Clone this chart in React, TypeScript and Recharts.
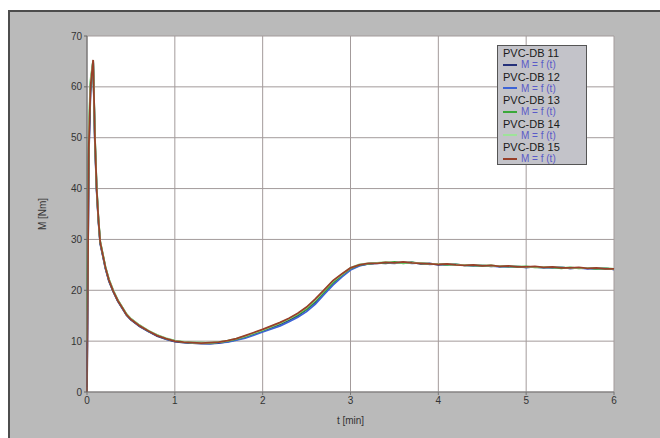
import { CartesianGrid, Legend, Line, LineChart, XAxis, YAxis } from 'recharts'

// time axis [min]
const times = [
  0, 0.02, 0.04, 0.07, 0.09, 0.11, 0.13, 0.15, 0.18, 0.21, 0.25, 0.3, 0.35, 0.4, 0.45, 0.5,
  0.6, 0.7, 0.8, 0.9, 1.0, 1.1, 1.2, 1.3, 1.4, 1.5, 1.6, 1.7, 1.8, 1.9, 2.0,
  2.1, 2.2, 2.3, 2.4, 2.5, 2.6, 2.7, 2.8, 2.9, 3.0, 3.1, 3.2, 3.3, 3.4, 3.5,
  3.6, 3.7, 3.8, 3.9, 4.0, 4.1, 4.2, 4.3, 4.4, 4.5, 4.6, 4.7, 4.8, 4.9, 5.0,
  5.1, 5.2, 5.3, 5.4, 5.5, 5.6, 5.7, 5.8, 5.9, 6.0,
]

// torque M [Nm] per sample
const db11 = [
  4, 46, 59, 64.8, 49, 39.5, 33.6, 29.2, 26.8, 24.3, 21.8, 19.7, 17.9, 16.5, 15.1, 14.2,
  12.9, 11.9, 11.0, 10.4, 9.9, 9.7, 9.6, 9.5, 9.5, 9.6, 9.9, 10.3, 10.8, 11.4, 12.0,
  12.6, 13.3, 14.1, 15.0, 16.2, 17.7, 19.6, 21.4, 22.9, 24.2, 24.9, 25.2, 25.4, 25.3, 25.5,
  25.4, 25.5, 25.2, 25.3, 25.0, 25.1, 25.0, 25.0, 24.8, 24.9, 24.7, 24.8, 24.6, 24.7, 24.5,
  24.6, 24.6, 24.4, 24.5, 24.3, 24.4, 24.4, 24.2, 24.3, 24.1,
]
const db12 = [
  1, 47, 60.5, 65, 49.5, 39.8, 33.8, 29.4, 26.9, 24.4, 21.9, 19.8, 18.0, 16.5, 15.2, 14.3,
  13.0, 11.9, 11.1, 10.4, 10.0, 9.8, 9.6, 9.6, 9.5, 9.7, 9.8, 10.2, 10.6, 11.2, 11.8,
  12.4, 13.0, 13.8, 14.7, 15.8, 17.3, 19.2, 21.0, 22.6, 24.0, 24.8, 25.2, 25.3, 25.4, 25.3,
  25.5, 25.3, 25.4, 25.1, 25.2, 25.0, 25.1, 24.9, 24.9, 24.8, 24.8, 24.6, 24.7, 24.6, 24.5,
  24.6, 24.4, 24.5, 24.5, 24.3, 24.4, 24.2, 24.3, 24.3, 24.1,
]
const db13 = [
  16, 50, 61, 65.1, 50.2, 40.2, 34.1, 29.6, 27.1, 24.6, 22.1, 19.9, 18.1, 16.7, 15.3, 14.4,
  13.1, 12.0, 11.2, 10.5, 10.1, 9.8, 9.7, 9.7, 9.6, 9.8, 10.0, 10.4, 10.9, 11.5, 12.1,
  12.8, 13.5, 14.3, 15.2, 16.3, 17.9, 19.7, 21.5, 23.0, 24.3, 25.0, 25.2, 25.4, 25.4, 25.6,
  25.3, 25.5, 25.3, 25.2, 25.2, 25.0, 25.1, 24.9, 24.9, 24.8, 24.9, 24.7, 24.7, 24.6, 24.7,
  24.5, 24.5, 24.5, 24.3, 24.5, 24.3, 24.4, 24.2, 24.3, 24.2,
]
const db14 = [
  10, 52, 61.5, 65.2, 50.5, 40.4, 34.2, 29.7, 27.2, 24.6, 22.2, 20.0, 18.1, 16.7, 15.3, 14.4,
  13.1, 12.1, 11.2, 10.6, 10.1, 9.9, 9.7, 9.7, 9.7, 9.8, 10.1, 10.5, 11.0, 11.6, 12.2,
  12.9, 13.6, 14.4, 15.4, 16.6, 18.1, 20.0, 21.8, 23.1, 24.4, 25.1, 25.3, 25.4, 25.6, 25.4,
  25.5, 25.4, 25.4, 25.2, 25.2, 25.1, 25.0, 25.0, 24.9, 24.9, 24.8, 24.8, 24.7, 24.7, 24.6,
  24.6, 24.6, 24.5, 24.5, 24.4, 24.4, 24.4, 24.3, 24.3, 24.2,
]
const db15 = [
  0, 48, 60, 65.3, 50, 40, 34, 29.5, 27, 24.5, 22, 19.8, 18, 16.6, 15.2, 14.3,
  13.0, 12.0, 11.1, 10.5, 10.0, 9.8, 9.7, 9.6, 9.7, 9.8, 10.1, 10.5, 11.1, 11.7, 12.3,
  13.0, 13.7, 14.5, 15.5, 16.7, 18.3, 20.1, 21.9, 23.2, 24.4, 25.0, 25.3, 25.3, 25.5, 25.4,
  25.6, 25.4, 25.3, 25.2, 25.1, 25.2, 25.0, 24.9, 25.0, 24.8, 24.9, 24.7, 24.8, 24.6, 24.6,
  24.7, 24.5, 24.6, 24.4, 24.4, 24.5, 24.3, 24.4, 24.2, 24.2,
]

const xTicks = [0, 1, 2, 3, 4, 5, 6]
const yTicks = [0, 10, 20, 30, 40, 50, 60, 70]

const series = [
  { key: 'db11', name: 'PVC-DB 11', color: '#25317a', values: db11 },
  { key: 'db12', name: 'PVC-DB 12', color: '#3d64d6', values: db12 },
  { key: 'db13', name: 'PVC-DB 13', color: '#3aa83a', values: db13 },
  { key: 'db14', name: 'PVC-DB 14', color: '#9ee39a', values: db14 },
  { key: 'db15', name: 'PVC-DB 15', color: '#98402a', values: db15 },
]

const data = times.map((t, i) => {
  const row: Record<string, number> = { t }
  series.forEach((s) => {
    row[s.key] = s.values[i]
  })
  return row
})

const FONT = '"Liberation Sans", Arial, sans-serif'

function LegendBox() {
  return (
    <div
      style={{
        boxSizing: 'border-box',
        width: 90,
        height: 120,
        background: '#c3c3c9',
        border: '1px solid #555',
        padding: '1px 0 0 5px',
        fontFamily: FONT,
      }}
    >
      {series.map((s) => (
        <div key={s.key}>
          <div style={{ fontSize: 11, lineHeight: '12px', color: '#1a1a1a' }}>{s.name}</div>
          <div style={{ display: 'flex', alignItems: 'center', height: 11.5 }}>
            <span
              style={{ display: 'inline-block', width: 14, height: 2, background: s.color, marginRight: 4 }}
            />
            <span style={{ fontSize: 10, color: '#5a5ac8' }}>M = f (t)</span>
          </div>
        </div>
      ))}
    </div>
  )
}

export default function App() {
  return (
    <div
      style={{
        position: 'absolute',
        left: 8,
        top: 10,
        width: 652,
        height: 428,
        boxSizing: 'border-box',
        borderTop: '2px solid #4d4d4d',
        borderLeft: '2px solid #4d4d4d',
        background: '#bababa',
      }}
    >
      <LineChart
        width={650}
        height={426}
        data={data}
        margin={{ top: 24, right: 46, bottom: 10, left: 20 }}
        style={{ fontFamily: FONT }}
      >
        <CartesianGrid stroke="#a39b9b" fill="#ffffff" />
        <XAxis
          dataKey="t"
          type="number"
          domain={[0, 6]}
          ticks={xTicks}
          height={36}
          stroke="#777"
          tickSize={3}
          tickMargin={2}
          tick={{ fontSize: 10, fill: '#333' }}
          label={{ value: 't [min]', position: 'insideBottom', offset: 4, fontSize: 10, fill: '#333' }}
        />
        <YAxis
          type="number"
          domain={[0, 70]}
          ticks={yTicks}
          width={57}
          stroke="#666"
          tickSize={3}
          tickMargin={2}
          tick={{ fontSize: 10, fill: '#333' }}
          label={{
            value: 'M [Nm]',
            angle: -90,
            position: 'insideLeft',
            offset: 12,
            fontSize: 10,
            fill: '#333',
            style: { textAnchor: 'middle' },
          }}
        />
        <Legend
          layout="horizontal"
          verticalAlign="middle"
          align="center"
          content={() => <LegendBox />}
          wrapperStyle={{ left: 487, top: 33, width: 90, height: 120 }}
        />
        {series.map((s) => (
          <Line
            key={s.key}
            dataKey={s.key}
            name={s.name}
            type="linear"
            stroke={s.color}
            strokeWidth={1.8}
            dot={false}
            isAnimationActive={false}
          />
        ))}
      </LineChart>
    </div>
  )
}
